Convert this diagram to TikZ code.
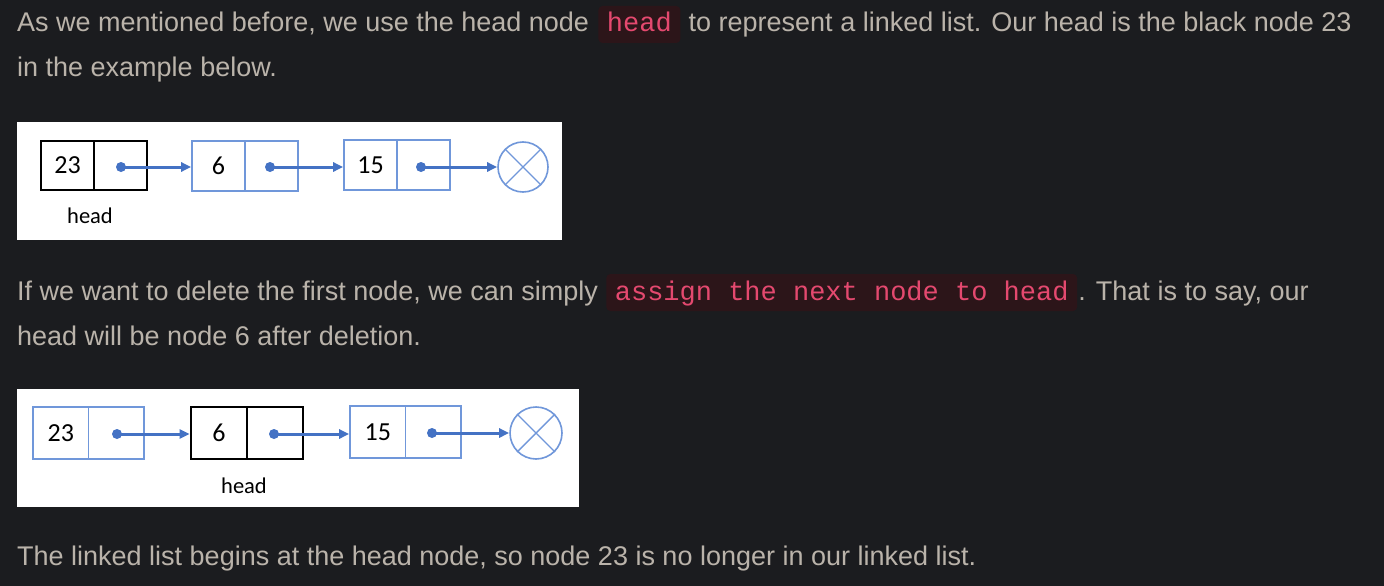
\documentclass[tikz,border=0pt]{standalone}
\usepackage{fontspec}
\setmainfont{Liberation Sans}
\newfontfamily\codefont{Liberation Mono}
\newfontfamily\diagfont{Carlito}
\usetikzlibrary{arrows.meta,positioning}
\definecolor{pagebg}{HTML}{1B1C1F}
\definecolor{bodytext}{HTML}{BAB3AA}
\definecolor{codetext}{HTML}{E4496F}
\definecolor{codebg}{HTML}{2C1519}
\definecolor{boxblue}{HTML}{7097DA}
\definecolor{arrowblue}{HTML}{4472C4}
\tikzset{
  body/.style={anchor=base west,inner sep=0pt,text=bodytext,font=\fontsize{27}{32}\selectfont},
  code/.style={anchor=base west,fill=codebg,rounded corners=4pt,text=codetext,
    font=\fontsize{27}{32}\codefont,inner xsep=8.5pt,inner ysep=0pt,text height=26pt,text depth=11pt},
  cellblue/.style={draw=boxblue,line width=1.6pt,fill=white,minimum width=53pt,minimum height=50pt,inner sep=0pt,
    font=\fontsize{26}{28}\diagfont,text=black},
  cellblack/.style={draw=black,line width=2.8pt,fill=white,minimum width=53pt,minimum height=50pt,inner sep=0pt,
    font=\fontsize{26}{28}\diagfont,text=black},
  nullc/.style={circle,draw=boxblue,line width=1.6pt,inner sep=0pt},
  link/.style={draw=arrowblue,line width=3pt,-{Triangle[length=10pt,width=9pt]}},
  dot/.style={circle,fill=arrowblue,inner sep=0pt,minimum size=10pt},
  lbl/.style={font=\fontsize{22.5}{26}\diagfont,text=black,inner sep=0pt},
  panel/.style={fill=white,draw=none}
}
\begin{document}
\begin{tikzpicture}[x=1pt,y=-1pt]
\fill[pagebg] (0,0) rectangle (1384,586);
\useasboundingbox (0,0) rectangle (1384,586);

% line 1
\node[body] (t1) at (17,32) {As we mentioned before, we use the head node};
\node[code] (c1) at ([xshift=9pt]t1.base east) {head};
\node[body] (t2) at ([xshift=8pt]c1.base east) {to represent a linked list. Our head is the black node 23};
\node[body] (t3) at (17,77) {in the example below.};

% picture 1
\fill[panel] (17,122) rectangle (562,240);
\node[cellblack,minimum width=53pt,minimum height=49pt] (a1) at (67.5,165.5) {23};
\node[cellblack,minimum width=53pt,minimum height=49pt] (a2) at (120.5,165.5) {};
\node[cellblue] (b1) at (218.5,166) {6};
\node[cellblue] (b2) at (271.5,166) {};
\node[cellblue] (c1a) at (370.5,165) {15};
\node[cellblue] (c2a) at (423.5,165) {};
\node[nullc,minimum size=50pt] (n1) at (523,167) {};
\draw[boxblue,line width=1.4pt] (n1.north west) -- (n1.south east) (n1.north east) -- (n1.south west);
\node[dot] (d1) at (121,167) {};
\node[dot] (d2) at (270,167) {};
\node[dot] (d3) at (421,167) {};
\draw[link] (d1.center) -- (d1.center -| b1.west);
\draw[link] (d2.center) -- (d2.center -| c1a.west);
\draw[link] (d3.center) -- (n1.west);
\node[lbl] (h1) at (90,216) {head};

% line 3
\node[body] (t4) at (17,300) {If we want to delete the first node, we can simply};
\node[code] (c2) at ([xshift=8pt]t4.base east) {assign the next node to head};
\node[body] (t5) at ([xshift=1pt]c2.base east) {. That is to say, our};
\node[body] (t6) at (17,345) {head will be node 6 after deletion.};

% picture 2
\fill[panel] (17,389) rectangle (579,507);
\node[cellblue,minimum width=55.5pt,minimum height=52pt] (p1) at (60.75,433) {23};
\node[cellblue,minimum width=55.5pt,minimum height=52pt] (p2) at (116.25,433) {};
\node[cellblack,minimum width=56pt,minimum height=52pt] (q1) at (219,433) {6};
\node[cellblack,minimum width=56pt,minimum height=52pt] (q2) at (275,433) {};
\node[cellblue,minimum width=55.5pt,minimum height=52pt] (r1) at (377.75,432) {15};
\node[cellblue,minimum width=55.5pt,minimum height=52pt] (r2) at (433.25,432) {};
\node[nullc,minimum size=52pt] (n2) at (536,433) {};
\draw[boxblue,line width=1.4pt] (n2.north west) -- (n2.south east) (n2.north east) -- (n2.south west);
\node[dot] (e1) at (117,434) {};
\node[dot] (e2) at (274,434) {};
\node[dot] (e3) at (432,433) {};
\draw[link] (e1.center) -- (e1.center -| q1.west);
\draw[link] (e2.center) -- (e2.center -| r1.west);
\draw[link] (e3.center) -- (n2.west);
\node[lbl] (h2) at (244,486) {head};

% last line
\node[body] (t7) at (17,565) {The linked list begins at the head node, so node 23 is no longer in our linked list.};
\end{tikzpicture}
\end{document}
